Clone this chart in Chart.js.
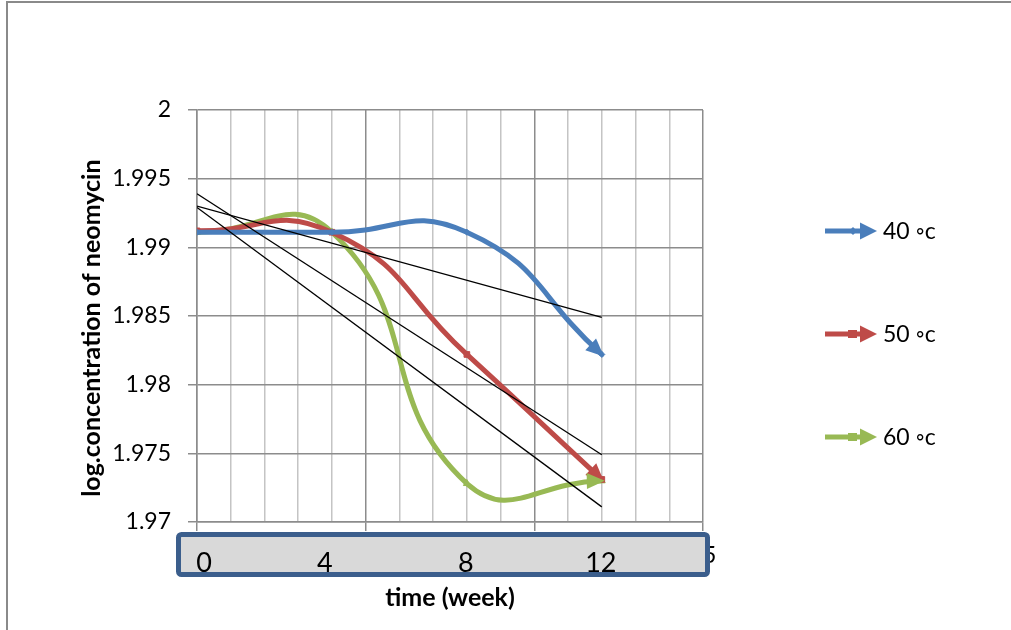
<!DOCTYPE html>
<html>
<head>
<meta charset="utf-8">
<script src="https://cdn.jsdelivr.net/npm/chart.js@4.4.1/dist/chart.umd.min.js"></script>
<style>
  html, body { margin: 0; padding: 0; background: #fff; }
</style>
</head>
<body>
<canvas id="chart" width="1011" height="630"></canvas>
<script>
// values
const weeks = [0, 4, 8, 12];
const temps = ["40 \u25E6c", "50 \u25E6c", "60 \u25E6c"];
const logConc40 = [1.9911, 1.9911, 1.9911, 1.9822];
const logConc50 = [1.9912, 1.9911, 1.9822, 1.9731];
const logConc60 = [1.9911, 1.9911, 1.9728, 1.9730];
// linear trend lines (start / end)
const trendWeeks = [0, 12];
const trend40 = [1.9930, 1.9849];
const trend50 = [1.9939, 1.9749];
const trend60 = [1.9929, 1.9711];
// labels typed in the grey box over the x axis
const boxLabels = [0, 4, 8, 12];

const series = [logConc40, logConc50, logConc60];
const trends = [trend40, trend50, trend60];
const colors = ["#4a7ebb", "#be4b48", "#98b954"];
const markers = ["rectRot", "rect", "triangle"];
const FONT = "Lato, 'Open Sans', sans-serif";

const datasets = [];
series.forEach((vals, i) => {
  datasets.push({
    label: temps[i],
    data: weeks.map((w, j) => ({ x: w, y: vals[j] })),
    borderColor: colors[i],
    backgroundColor: colors[i],
    borderWidth: 5,
    tension: 0.5,
    pointStyle: markers[i],
    pointRadius: i === 0 ? 3 : 4,
    pointBackgroundColor: colors[i],
    pointBorderColor: colors[i],
    pointBorderWidth: 1,
    order: 1,
  });
});
trends.forEach((vals) => {
  datasets.push({
    label: "",
    data: trendWeeks.map((w, j) => ({ x: w, y: vals[j] })),
    borderColor: "#000",
    borderWidth: 1.3,
    pointRadius: 0,
    tension: 0,
    order: 0,
  });
});

function arrow(ctx, fromX, fromY, tipX, tipY, len, half, color) {
  const a = Math.atan2(tipY - fromY, tipX - fromX);
  const bx = tipX - Math.cos(a) * len, by = tipY - Math.sin(a) * len;
  ctx.fillStyle = color;
  ctx.beginPath();
  ctx.moveTo(tipX, tipY);
  ctx.lineTo(bx + Math.sin(a) * half, by - Math.cos(a) * half);
  ctx.lineTo(bx - Math.sin(a) * half, by + Math.cos(a) * half);
  ctx.closePath();
  ctx.fill();
}

const decor = {
  id: "decor",
  beforeDraw(chart) {
    const ctx = chart.ctx;
    ctx.save();
    ctx.fillStyle = "#fff";
    ctx.fillRect(0, 0, chart.width, chart.height);
    ctx.strokeStyle = "#8a8a8a";
    ctx.lineWidth = 2;
    ctx.beginPath();
    ctx.moveTo(7, chart.height);
    ctx.lineTo(7, 2);
    ctx.lineTo(chart.width, 2);
    ctx.stroke();
    ctx.restore();
  },
  afterDatasetsDraw(chart) {
    const ctx = chart.ctx;
    ctx.save();
    series.forEach((vals, i) => {
      const pts = chart.getDatasetMeta(i).data;
      const last = pts[pts.length - 1];
      const prev = pts[pts.length - 2];
      const fx = last.cp1x !== undefined ? last.cp1x : prev.x;
      const fy = last.cp1y !== undefined ? last.cp1y : prev.y;
      const a = Math.atan2(last.y - fy, last.x - fx);
      arrow(ctx, fx, fy, last.x + Math.cos(a) * 3, last.y + Math.sin(a) * 3, 18, 8, colors[i]);
    });
    ctx.restore();
  },
  afterDraw(chart) {
    const ctx = chart.ctx;
    const xs = chart.scales.x;
    ctx.save();
    // legend
    const ly = [231, 334, 437];
    temps.forEach((t, i) => {
      ctx.strokeStyle = colors[i];
      ctx.lineWidth = 5;
      ctx.beginPath();
      ctx.moveTo(825, ly[i]);
      ctx.lineTo(864, ly[i]);
      ctx.stroke();
      arrow(ctx, 825, ly[i], 877, ly[i], 17, 8.5, colors[i]);
      ctx.fillStyle = colors[i];
      if (i === 0) {
        ctx.beginPath();
        ctx.moveTo(853, ly[i] - 4); ctx.lineTo(857, ly[i]); ctx.lineTo(853, ly[i] + 4); ctx.lineTo(849, ly[i]);
        ctx.fill();
      } else {
        ctx.fillRect(848, ly[i] - 4, 9, 8);
      }
      ctx.fillStyle = "#000";
      ctx.font = "23px " + FONT;
      ctx.textBaseline = "middle";
      ctx.textAlign = "left";
      ctx.fillText(t, 883, ly[i] + 1);
    });
    // grey text box over the x axis (labels typed by hand, slightly off the ticks)
    const bx = 178.5, by = 534.5, bw = 529, bh = 40;
    ctx.beginPath();
    ctx.roundRect(bx, by, bw, bh, 3);
    ctx.fillStyle = "#d9d9d9";
    ctx.fill();
    ctx.lineWidth = 5;
    ctx.strokeStyle = "#3b5e8c";
    ctx.stroke();
    ctx.fillStyle = "#000";
    ctx.font = "27px " + FONT;
    ctx.textAlign = "center";
    ctx.textBaseline = "alphabetic";
    const nudge = [7, -7, -1, -1];
    boxLabels.forEach((v, i) => {
      ctx.fillText(String(v), xs.getPixelForValue(v) + nudge[i], 572);
    });
    ctx.restore();
  },
};

new Chart(document.getElementById("chart"), {
  type: "line",
  data: { datasets },
  options: {
    responsive: false,
    animation: false,
    devicePixelRatio: 1,
    layout: { padding: { left: 0, top: 110, right: 308, bottom: 0 } },
    plugins: { legend: { display: false }, tooltip: { enabled: false } },
    scales: {
      x: {
        type: "linear",
        min: 0,
        max: 15,
        afterFit(scale) { scale.height = 108; },
        ticks: {
          stepSize: 1,
          autoSkip: false,
          maxRotation: 0,
          padding: 11,
          color: "#000",
          font: { family: FONT, size: 23 },
          callback: (v) => (v % 5 === 0 ? String(v) : ""),
        },
        grid: {
          color: (c) => (c.tick && c.tick.value % 5 === 0 ? "#8c8c8c" : "#c4c4c4"),
          lineWidth: 1.5,
          tickLength: 9,
          tickColor: (c) => (c.tick && c.tick.value % 5 === 0 ? "#8c8c8c" : "rgba(0,0,0,0)"),
        },
        border: { color: "#8c8c8c", width: 1.5 },
        title: {
          display: true,
          text: "time (week)",
          color: "#000",
          font: { family: FONT, size: 25, weight: "bold" },
          padding: { top: 0, bottom: 17 },
        },
      },
      y: {
        min: 1.97,
        max: 2,
        afterFit(scale) { scale.width = 197; },
        ticks: {
          stepSize: 0.005,
          padding: 17,
          color: "#000",
          font: { family: FONT, size: 23 },
          callback: (v) => String(Number(v.toFixed(3))),
        },
        grid: { color: "#8c8c8c", lineWidth: 1.5, tickLength: 9, tickColor: "#8c8c8c" },
        border: { color: "#8c8c8c", width: 1.5 },
        title: {
          display: true,
          // trailing spaces push the visible text a little down, as in the picture
          text: "log.concentration of neomycin    ",
          color: "#000",
          font: { family: FONT, size: 25, weight: "bold" },
          padding: { top: 77, bottom: 0 },
        },
      },
    },
  },
  plugins: [decor],
});
</script>
</body>
</html>
